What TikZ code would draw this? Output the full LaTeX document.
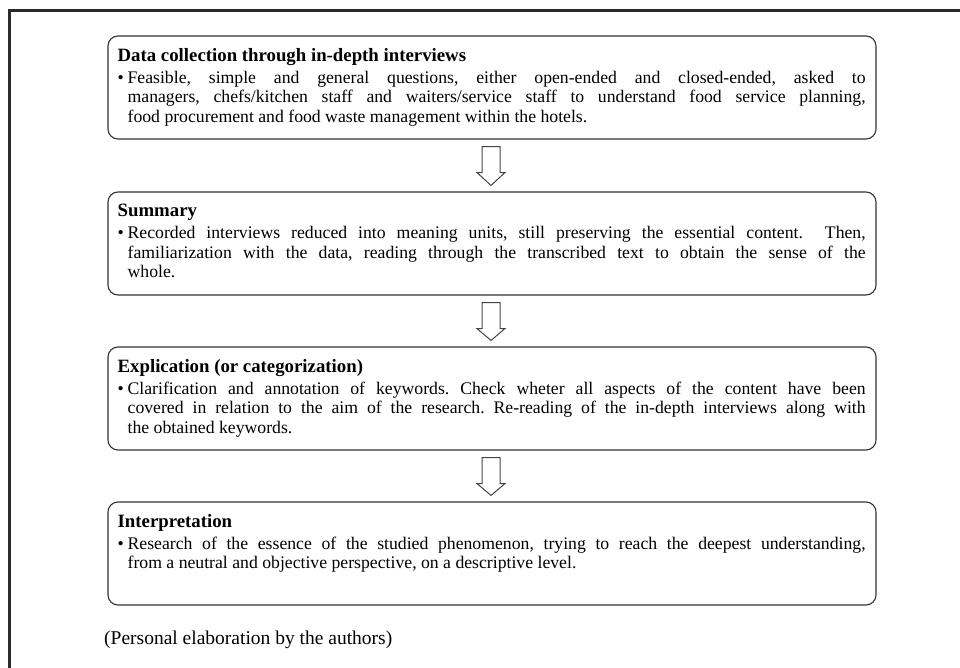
\documentclass[tikz,border=0pt]{standalone}
\usepackage{fontspec}
\setmainfont{Liberation Serif}
\usetikzlibrary{calc}
\definecolor{framecol}{HTML}{2B2B2B}
\definecolor{boxcol}{HTML}{333333}
\definecolor{arrowcol}{HTML}{444444}
\newcommand{\stagebody}[2]{{\fontsize{18.8}{20}\selectfont\bfseries #1\par}\vspace{2.5pt}\hangindent=10pt\hangafter=1\noindent\makebox[10pt][l]{\textbullet}#2\par}
\begin{document}
\frenchspacing
\begin{tikzpicture}[x=1pt,y=-1pt,
  stagebox/.style={draw=boxcol, line width=1.1pt, rounded corners=10pt, inner sep=0pt, minimum width=768pt, minimum height=103pt},
  stagetext/.style={inner sep=0pt, text width=748pt, align=justify, font=\fontsize{17.7}{19.5}\selectfont\frenchspacing, anchor=north west},
  blockarrow/.style={draw=arrowcol, line width=1pt, fill=white, line join=miter},
  captiontext/.style={inner sep=0pt, anchor=west, font=\fontsize{19.5}{23}\selectfont}]
\useasboundingbox (0,0) rectangle (960,668);
\draw[framecol, line width=3pt, line join=miter] (9.5,668) -- (9.5,11) -- (960,11);

\node[stagebox] (b1) at (492,87.5) {};
\node[stagebox] (b2) at (492,243.5) {};
\node[stagebox] (b3) at (492,398.5) {};
\node[stagebox] (b4) at (492,553.5) {};

\node[stagetext] (t1) at ($(b1.north west)+(10,12.5)$) {\stagebody{Data collection through in-depth interviews}{Feasible, simple and general questions, either open-ended and closed-ended, asked to\linebreak managers, chefs/kitchen staff and waiters/service staff to understand food service planning,\linebreak food procurement and food waste management within the hotels.}};
\node[stagetext] (t2) at ($(b2.north west)+(10,12.5)$) {\stagebody{Summary}{Recorded interviews reduced into meaning units, still preserving the essential content.\ \ Then,\linebreak familiarization with the data, reading through the transcribed text to obtain the sense of the\linebreak whole.}};
\node[stagetext] (t3) at ($(b3.north west)+(10,12.5)$) {\stagebody{Explication (or categorization)}{Clarification and annotation of keywords. Check wheter all aspects of the content have been\linebreak covered in relation to the aim of the research. Re-reading of the in-depth interviews along with\linebreak the obtained keywords.}};
\node[stagetext] (t4) at ($(b4.north west)+(10,12.5)$) {\stagebody{Interpretation}{Research of the essence of the studied phenomenon, trying to reach the deepest understanding,\linebreak from a neutral and objective perspective, on a descriptive level.}};

\foreach \a/\b in {b1/b2, b2/b3, b3/b4}{
  \draw[blockarrow] ($(\a.south)+(-10,7)$) -- ($(\a.south)+(8,7)$) -- ($(\a.south)+(8,33)$) -- ($(\a.south)+(13,33)$) -- ($(\b.north)+(-1,-6)$) -- ($(\a.south)+(-15,33)$) -- ($(\a.south)+(-10,33)$) -- cycle;
}

\node[captiontext] (cap) at (104,640) {(Personal elaboration by the authors)};
\end{tikzpicture}
\end{document}
